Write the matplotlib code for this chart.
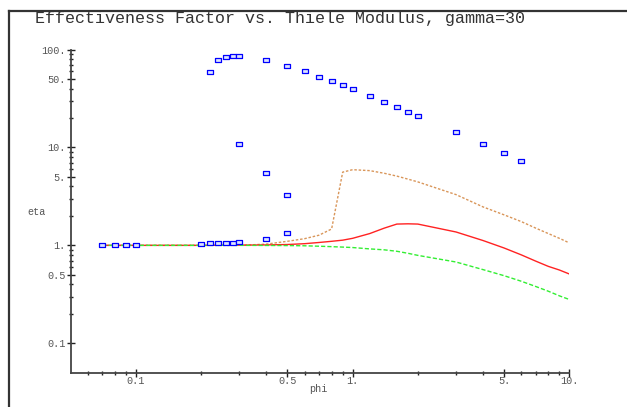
import matplotlib
matplotlib.use("Agg")
import matplotlib.pyplot as plt
from matplotlib.lines import Line2D
from matplotlib.path import Path
from matplotlib.ticker import FixedLocator, FixedFormatter, NullFormatter

# ---- data ----
# blue square points (phi, eta) -- three branches of the multiple steady states
phi_low = [0.07, 0.08, 0.09, 0.1, 0.2, 0.22, 0.24, 0.26, 0.28, 0.3]
eta_low = [1.0, 1.0, 1.0, 1.0, 1.04, 1.048, 1.048, 1.058, 1.065, 1.083]

phi_mid = [0.3, 0.4, 0.5, 0.4, 0.5]
eta_mid = [10.9, 5.44, 3.30, 1.17, 1.34]

phi_high = [0.22, 0.24, 0.26, 0.28, 0.3, 0.4, 0.5, 0.6, 0.7, 0.8, 0.9, 1.0,
            1.2, 1.4, 1.6, 1.8, 2.0, 3.0, 4.0, 5.0, 6.0]
eta_high = [58.5, 77.6, 83.3, 85.2, 85.2, 77.6, 68.0, 59.9, 52.9, 47.8, 43.1, 39.6,
            33.6, 29.4, 25.9, 23.2, 21.1, 14.3, 10.9, 8.7, 7.3]

# curves
phi_curve = [0.07, 0.1, 0.2, 0.3, 0.4, 0.5, 0.6, 0.7, 0.8, 0.9, 1.0, 1.2, 1.4,
             1.6, 1.8, 2.0, 3.0, 4.0, 5.0, 6.0, 7.0, 8.0, 9.0, 10.0]
eta_orange = [1.0, 1.0, 1.0, 1.0, 1.03, 1.10, 1.17, 1.27, 1.47, 5.6, 5.93, 5.8, 5.45,
              5.1, 4.75, 4.45, 3.3, 2.47, 2.05, 1.75, 1.5, 1.32, 1.18, 1.06]
eta_red = [1.0, 1.0, 1.0, 1.005, 1.01, 1.02, 1.04, 1.07, 1.10, 1.13, 1.18, 1.32, 1.50,
           1.65, 1.66, 1.65, 1.37, 1.12, 0.94, 0.80, 0.69, 0.61, 0.56, 0.51]
eta_green = [1.0, 1.0, 1.0, 1.0, 0.998, 0.995, 0.99, 0.98, 0.97, 0.96, 0.95, 0.92, 0.90,
             0.87, 0.83, 0.79, 0.676, 0.565, 0.49, 0.43, 0.38, 0.34, 0.305, 0.28]

xmajor = [0.1, 0.5, 1.0, 5.0, 10.0]
xmajor_labels = ["0.1", "0.5", "1.", "5.", "10."]
xminor = [0.06, 0.07, 0.08, 0.09, 0.2, 0.3, 0.4, 0.6, 0.7, 0.8, 0.9, 2, 3, 4, 6, 7, 8, 9]
ymajor = [0.1, 0.5, 1.0, 5.0, 10.0, 50.0, 100.0]
ymajor_labels = ["0.1", "0.5", "1.", "5.", "10.", "50.", "100."]
yminor = [0.2, 0.3, 0.4, 0.6, 0.7, 0.8, 0.9, 2, 3, 4, 6, 7, 8, 9, 20, 30, 40, 60, 70, 80, 90]

title = "Effectiveness Factor vs. Thiele Modulus, gamma=30"
mono = "Liberation Mono"

W, H = 627, 407
fig = plt.figure(figsize=(W / 100, H / 100), dpi=100)
fig.patch.set_facecolor("white")

left, right, top, bottom = 70.7, 569.3, 49.6, 372.7
ax = fig.add_axes([left / W, 1 - bottom / H, (right - left) / W, (bottom - top) / H])
ax.set_xscale("log")
ax.set_yscale("log")
ax.set_xlim(0.05, 10)
ax.set_ylim(0.05, 100)

ax.plot(phi_curve, eta_orange, color="#d9965a", lw=1.0, linestyle=(0, (1.8, 1.3)), zorder=2)
ax.plot(phi_curve, eta_red, color="#ff2222", lw=1.0, zorder=2)
ax.plot(phi_curve, eta_green, color="#33ee33", lw=1.0, linestyle=(0, (3.0, 1.5)), zorder=2)

rect = Path([(-1.35, -1), (1.35, -1), (1.35, 1), (-1.35, 1), (-1.35, -1)],
            [Path.MOVETO, Path.LINETO, Path.LINETO, Path.LINETO, Path.CLOSEPOLY])
mk = dict(linestyle="none", marker=rect, markersize=4.2, markeredgewidth=0.9,
          markeredgecolor="#0000ff", markerfacecolor="#dde4ff", zorder=3)
ax.plot(phi_low, eta_low, **mk)
ax.plot(phi_mid, eta_mid, **mk)
ax.plot(phi_high, eta_high, **mk)

for s in ["top", "right"]:
    ax.spines[s].set_visible(False)
for s in ["left", "bottom"]:
    ax.spines[s].set_color("#444444")
    ax.spines[s].set_linewidth(1.3)

ax.xaxis.set_major_locator(FixedLocator(xmajor))
ax.xaxis.set_major_formatter(FixedFormatter(xmajor_labels))
ax.xaxis.set_minor_locator(FixedLocator(xminor))
ax.xaxis.set_minor_formatter(NullFormatter())
ax.yaxis.set_major_locator(FixedLocator(ymajor))
ax.yaxis.set_major_formatter(FixedFormatter(ymajor_labels))
ax.yaxis.set_minor_locator(FixedLocator(yminor))
ax.yaxis.set_minor_formatter(NullFormatter())

ax.tick_params(which="major", direction="inout", length=5.5, width=1.0, color="#222222",
               labelsize=7.3, labelcolor="#555555", pad=1)
ax.tick_params(axis="x", which="major", pad=-0.5)
ax.tick_params(which="minor", direction="inout", length=3.0, width=1.0, color="#222222")
for lab in ax.get_xticklabels() + ax.get_yticklabels():
    lab.set_family(mono)

fig.text(318 / W, 1 - 388.5 / H, "phi", family=mono, fontsize=7.3, color="#555555",
         ha="center", va="center")
fig.text(37 / W, 1 - 212 / H, "eta", family=mono, fontsize=7.3, color="#555555",
         ha="center", va="center")

fig.text(35 / W, 1 - 23.0 / H, title, family=mono, fontsize=12, color="#333333",
         ha="left", va="baseline")

# outer frame (left and top edges)
fig.add_artist(Line2D([9 / W, 9 / W], [0, 1 - 10.5 / H], transform=fig.transFigure,
                      color="#333333", lw=1.6))
fig.add_artist(Line2D([9 / W, 1], [1 - 10.5 / H, 1 - 10.5 / H], transform=fig.transFigure,
                      color="#333333", lw=1.6))

fig.savefig("out.png", dpi=100)
